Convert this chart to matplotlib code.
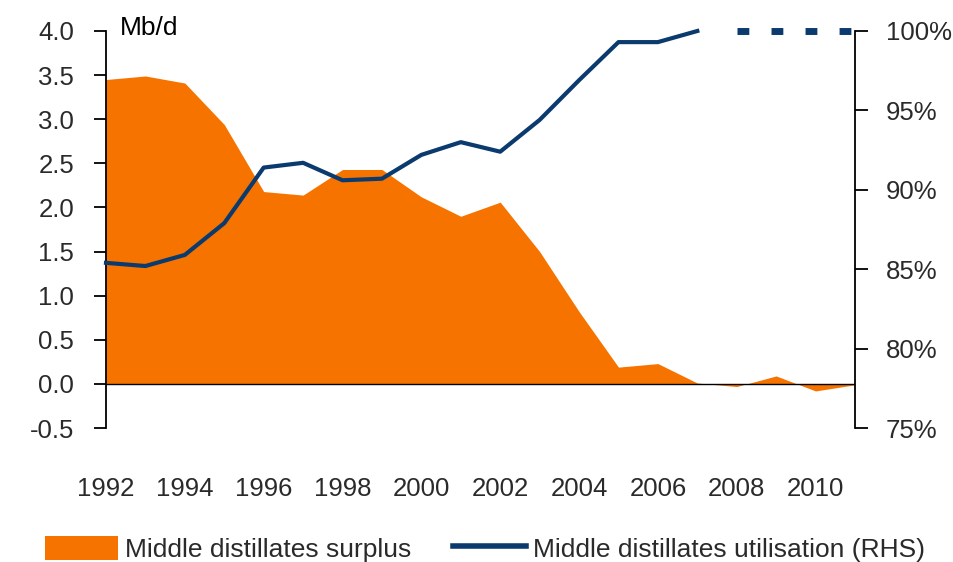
import matplotlib
matplotlib.use("Agg")
import matplotlib.pyplot as plt
from matplotlib.patches import Patch
from matplotlib.lines import Line2D

plt.rcParams["font.family"] = ["Liberation Sans", "DejaVu Sans"]

years = list(range(1992, 2012))
surplus_mbd = [3.45, 3.49, 3.41, 2.94, 2.18, 2.14, 2.43, 2.43, 2.12, 1.90,
               2.06, 1.50, 0.82, 0.19, 0.23, 0.01, -0.03, 0.09, -0.08, -0.01]
util_years = list(range(1992, 2008))
utilisation_pct = [85.4, 85.2, 85.9, 87.9, 91.4, 91.7, 90.6, 90.7, 92.2, 93.0,
                   92.4, 94.4, 96.9, 99.3, 99.3, 100.0]
forecast_years = [2008, 2011]
forecast_pct = [100.0, 100.0]

left_ticks = [-0.5, 0.0, 0.5, 1.0, 1.5, 2.0, 2.5, 3.0, 3.5, 4.0]
right_ticks = [75, 80, 85, 90, 95, 100]
year_ticks = list(range(1992, 2011, 2))

ORANGE = "#f77300"
NAVY = "#0b3b6e"
TICK_GREY = "#2a2a2a"
TICK_SIZE = 18.5

fig = plt.figure(figsize=(9.54, 5.62), dpi=100)
ax = fig.add_axes([106 / 954, 1 - 428 / 562, (855 - 106) / 954, (428 - 31) / 562])

ax.fill_between(years, 0, surplus_mbd, color=ORANGE, linewidth=0, zorder=1)
ax.axhline(0, color="black", linewidth=1.0, zorder=2)

ax.set_xlim(1992, 2011)
ax.set_ylim(-0.5, 4.0)
ax.set_yticks(left_ticks)
ax.set_yticklabels([f"{v:.1f}" for v in left_ticks])
ax.set_xticks(year_ticks)
ax.set_xticklabels([str(y) for y in year_ticks])

for side in ("top", "right", "bottom"):
    ax.spines[side].set_visible(False)
ax.spines["left"].set_linewidth(1.3)
ax.tick_params(axis="y", direction="out", length=9, width=1.3, pad=14,
               labelsize=TICK_SIZE, labelcolor=TICK_GREY)
ax.tick_params(axis="x", length=0, pad=35, labelsize=TICK_SIZE, labelcolor=TICK_GREY)

ax2 = ax.twinx()
ax2.plot(util_years, utilisation_pct, color=NAVY, linewidth=3.0,
         solid_joinstyle="round", zorder=3, clip_on=False)
ax2.plot(forecast_years, forecast_pct, color=NAVY, linewidth=5.0,
         linestyle=(0, (1.7, 3.2)), dash_capstyle="butt", zorder=3, clip_on=False)
ax2.set_ylim(75, 100)
ax2.set_xlim(1992, 2011)
ax2.set_yticks(right_ticks)
ax2.set_yticklabels([f"{v}%" for v in right_ticks])
for side in ("top", "left", "bottom"):
    ax2.spines[side].set_visible(False)
ax2.spines["right"].set_linewidth(1.3)
ax2.tick_params(axis="y", direction="out", length=9, width=1.3, pad=13,
                labelsize=TICK_SIZE, labelcolor=TICK_GREY)

fig.text(120 / 954, 1 - 28 / 562, "Mb/d", fontsize=19, color="black",
         va="center", ha="left")

handles = [
    Patch(facecolor=ORANGE, edgecolor="none", label="Middle distillates surplus"),
    Line2D([0], [0], color=NAVY, linewidth=4, label="Middle distillates utilisation (RHS)"),
]
leg = fig.legend(handles=handles, loc="lower left", bbox_to_anchor=(45 / 954, 0.0),
                 ncol=2, frameon=False, fontsize=19, borderpad=0,
                 handlelength=2.75, handleheight=1.05, handletextpad=0.27,
                 columnspacing=1.6, borderaxespad=0)
for t in leg.get_texts():
    t.set_color(TICK_GREY)

fig.savefig("out.png", dpi=100)
